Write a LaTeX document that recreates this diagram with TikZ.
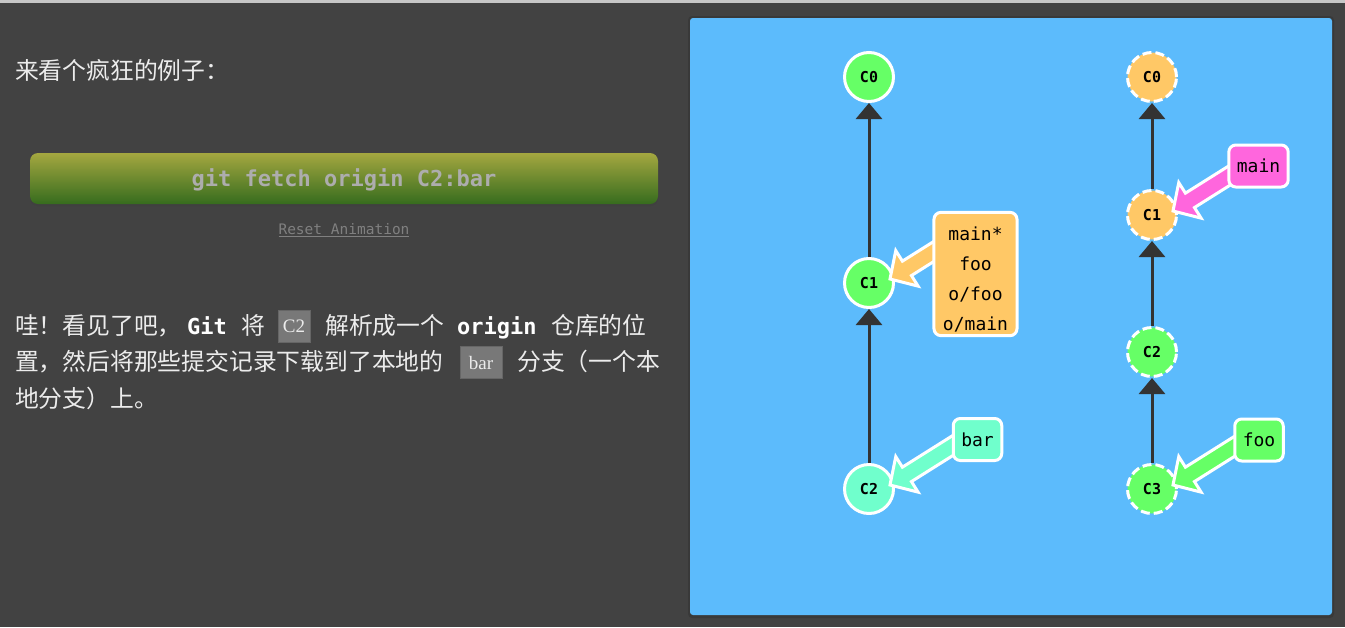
\documentclass[tikz,border=0pt]{standalone}
\usepackage{fontspec}
\setmainfont{Liberation Serif}
\newfontfamily\cjk{Noto Sans CJK SC}
\newfontfamily\mono{DejaVu Sans Mono}
\usetikzlibrary{arrows.meta,calc}

\definecolor{pagebg}{RGB}{66,66,66}
\definecolor{panelbg}{RGB}{92,187,252}
\definecolor{cgreen}{RGB}{102,255,102}
\definecolor{corange}{RGB}{255,200,102}
\definecolor{caqua}{RGB}{112,255,204}
\definecolor{cpink}{RGB}{255,102,221}
\definecolor{edgegray}{RGB}{51,51,51}
\definecolor{txtlight}{RGB}{236,236,236}
\definecolor{chipgray}{RGB}{120,120,120}
\definecolor{btntop}{RGB}{164,167,64}
\definecolor{btnbot}{RGB}{54,108,30}

\tikzset{
  commit/.style={circle, draw=white, line width=3pt, minimum size=49pt, inner sep=0pt,
    font=\mono\bfseries\fontsize{15}{15}\selectfont},
  remote/.style={commit, dash pattern=on 9pt off 4pt},
  edge/.style={draw=edgegray, line width=3pt, -{Triangle[width=26pt,length=16pt]}},
  branch/.style={draw=white, line width=3pt, rounded corners=7pt, inner xsep=8pt,
    minimum height=42pt, font=\mono\fontsize{18}{30}\selectfont},
  ptr/.style={draw=white, line width=3pt, line join=miter},
  zh/.style={anchor=base west, inner sep=0pt, text=txtlight, font=\cjk\fontsize{23.8}{28}\selectfont},
  kw/.style={anchor=base west, inner sep=0pt, text=white, font=\mono\bfseries\fontsize{22}{28}\selectfont},
  chip/.style={fill=chipgray, draw=black!60, line width=1pt, inner sep=0pt, minimum height=32pt,
    text=white!92!black, font=\fontsize{19}{19}\selectfont}
}

% fat pointer from a branch label to commit #1
\newcommand{\brptr}[2]{%
  \coordinate (#1-tip) at ([shift={(21,-4)}]#1.center);
  \coordinate (#1-tail) at ([shift={(70,-44)}]#1-tip);
  \coordinate (#1-nk) at ($(#1-tip)!20pt!(#1-tail)$);
  \draw[ptr, fill=#2] (#1-tip) -- ($(#1-nk)!21pt!90:(#1-tip)$) -- ($(#1-nk)!8.5pt!90:(#1-tip)$)
    -- ($(#1-tail)!8.5pt!90:(#1-tip)$) -- ($(#1-tail)!8.5pt!-90:(#1-tip)$)
    -- ($(#1-nk)!8.5pt!-90:(#1-tip)$) -- ($(#1-nk)!21pt!-90:(#1-tip)$) -- cycle;
}

\begin{document}
\begin{tikzpicture}[x=1pt,y=-1pt]

\useasboundingbox (0,0) rectangle (1345,627);
\fill[pagebg] (0,0) rectangle (1345,627);
\fill[black!22] (0,0) rectangle (1345,2.5);

% left text column
\node[zh] (intro) at (15,79) {来看个疯狂的例子：};

\fill[black!75, rounded corners=8pt] (30,156) rectangle (658,206);
\shade[top color=btntop, bottom color=btnbot, rounded corners=8pt] (30,153) rectangle (658,204);
\node[text=black!32, font=\mono\bfseries\fontsize{22}{22}\selectfont] (cmd) at (344,180) {git fetch origin C2:bar};
\node[text=black!50, font=\mono\fontsize{14.5}{14.5}\selectfont] (reset) at (344,230) {\underline{Reset Animation}};

\node[zh] (l1a) at (15,334) {哇！看见了吧，};
\node[kw] (l1b) at (187,334) {Git};
\node[zh] (l1c) at (241,334) {将};
\node[chip, minimum width=32pt] (chipc2) at (294,326) {C2};
\node[zh] (l1d) at (325,334) {解析成一个};
\node[kw] (l1e) at (457,334) {origin};
\node[zh] (l1f) at (551,334) {仓库的位};

\node[zh] (l2a) at (15,370) {置，然后将那些提交记录下载到了本地的};
\node[chip, minimum width=42pt] (chipbar) at (481,362.5) {bar};
\node[zh] (l2b) at (517,370) {分支（一个本};

\node[zh] (l3a) at (15,407) {地分支）上。};

% panel
\fill[black, opacity=0.12, rounded corners=4pt] (688,16) rectangle (1334,618);
\fill[panelbg, rounded corners=3pt] (690,18) rectangle (1332,615);

% local repo
\node[commit, fill=cgreen] (lc0) at (869,77) {C0};
\node[commit, fill=cgreen] (lc1) at (869,283) {C1};
\node[commit, fill=caqua] (lc2) at (869,489) {C2};
\draw[edge] (lc1) -- (lc0);
\draw[edge] (lc2) -- (lc1);

% remote repo
\foreach \n/\y/\col in {0/77/corange,1/215/corange,2/352/cgreen,3/489/cgreen}
  \node[remote, fill=\col] (rc\n) at (1152,\y) {C\n};
\foreach \a/\b in {1/0,2/1,3/2}
  \draw[edge] (rc\a) -- (rc\b);

\brptr{lc1}{corange}
\brptr{lc2}{caqua}
\brptr{rc1}{cpink}
\brptr{rc3}{cgreen}

\node[branch, fill=corange, align=center, minimum height=119pt, inner xsep=9pt] (lmain) at (975.5,274)
  {\rule{0pt}{25pt}main*\\foo\\o/foo\\o/main};
\node[branch, fill=caqua] (lbar) at (977.5,439.5) {bar};
\node[branch, fill=cpink] (rmain) at (1258.5,166) {main};
\node[branch, fill=cgreen] (rfoo) at (1259,440) {foo};

\end{tikzpicture}
\end{document}
